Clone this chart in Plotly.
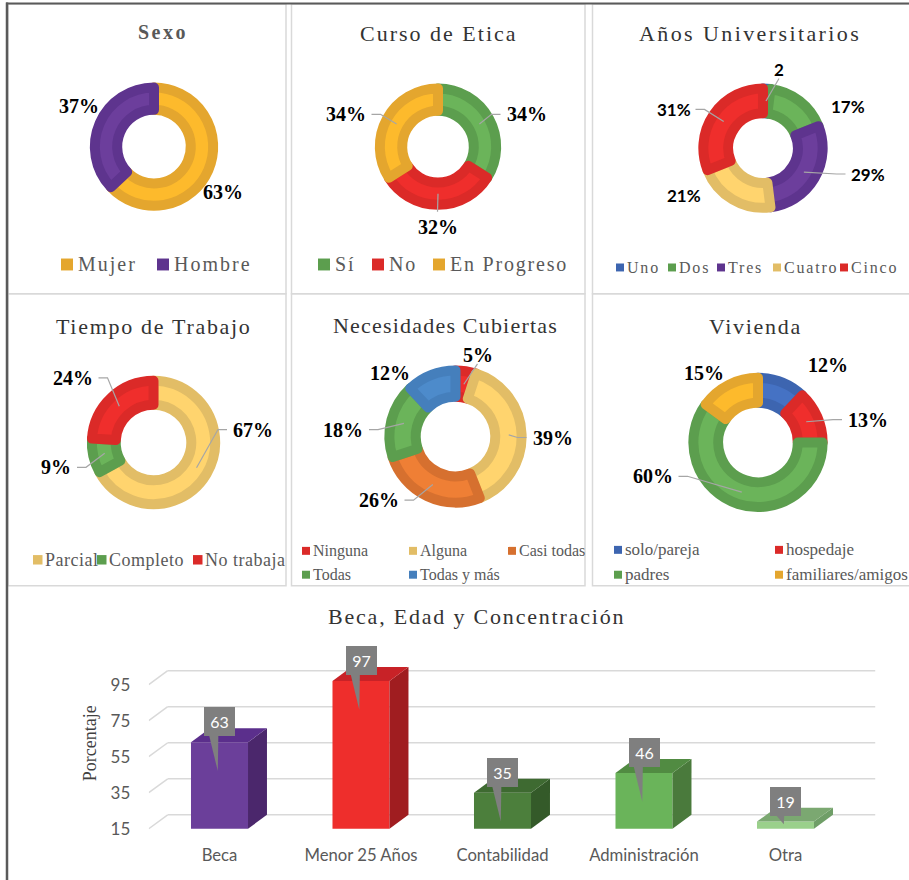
import math
import plotly.graph_objects as go

W, H = 909, 880

# ---------------- data ----------------
sexo_labels = ["Mujer", "Hombre"]
sexo_values = [63, 37]

etica_labels = ["Sí", "No", "En Progreso"]
etica_values = [34, 32, 34]

anos_labels = ["Uno", "Dos", "Tres", "Cuatro", "Cinco"]
anos_values = [2, 17, 29, 21, 31]
anos_text = ["2", "17%", "29%", "21%", "31%"]

trabajo_labels = ["Parcial", "Completo", "No trabaja"]
trabajo_values = [67, 9, 24]

necesidades_labels = ["Ninguna", "Alguna", "Casi todas", "Todas", "Todas y más"]
necesidades_values = [5, 39, 26, 18, 12]

vivienda_labels = ["solo/pareja", "hospedaje", "padres", "familiares/amigos"]
vivienda_values = [12, 13, 60, 15]

bar_categories = ["Beca", "Menor 25 Años", "Contabilidad", "Administración", "Otra"]
bar_values = [63, 97, 35, 46, 19]
bar_ticks = [15, 35, 55, 75, 95]

# ---------------- styles ----------------
SERIF = "Liberation Serif"
SANS = "Lato"
YEL = ("#FDBA2C", "#E4A62E")
PUR = ("#6C3E9C", "#5E348E")
GRN = ("#6BB45A", "#5C9E4E")
RED = ("#EF2E2C", "#DB2A28")
LYE = ("#FFD46E", "#E2BD66")
BLU = ("#4572C4", "#3D65B0")
BLU2 = ("#4D8BCB", "#457FBC")
ORG = ("#EF7F35", "#D6702F")
LEADER = "#A6A6A6"
LEGEND_COLOR = "#595959"
TITLE_COLOR = "#333333"


def X(px):
    return px / W


def Y(py):
    return 1 - py / H


def ls_text(t, ls):
    if ls:
        return f'<span style="letter-spacing:{ls}px">{t}</span>'
    return t


fig = go.Figure()
shapes = []
annotations = []


def add_text(x, y, text, size, family, color, xanchor="center", weight="normal", ls=0, angle=0):
    annotations.append(dict(x=X(x), y=Y(y), xref="paper", yref="paper", text=ls_text(text, ls),
                            showarrow=False, borderpad=0,
                            font=dict(family=family, size=size, color=color, weight=weight),
                            xanchor=xanchor, yanchor="middle", textangle=angle))


# ---------------- panel frames ----------------
for (x0, x1) in [(8, 286), (291.5, 585), (592.5, 915)]:
    for (y0, y1) in [(4, 295.5), (295.5, 589)]:
        shapes.append(dict(type="rect", xref="paper", yref="paper", x0=X(x0), x1=X(x1), y0=Y(y1), y1=Y(y0),
                           line=dict(color="#D9D9D9", width=1.5), layer="below"))
shapes.append(dict(type="line", xref="paper", yref="paper", x0=X(7), x1=X(7), y0=Y(2.5), y1=Y(885),
                   line=dict(color="#5A5A5A", width=2.5)))
shapes.append(dict(type="line", xref="paper", yref="paper", x0=X(6), x1=X(915), y0=Y(3.5), y1=Y(3.5),
                   line=dict(color="#5A5A5A", width=2)))

# ---------------- donuts ----------------
donuts = [
    dict(title="<b>Sexo</b>", title_xy=(163, 32), title_size=20, title_color="#595959", title_ls=2.5,
         labels=sexo_labels, values=sexo_values, text=[f"{v}%" for v in sexo_values],
         pal=[YEL, PUR], c=(154, 147.5), ro=64.5, ri=32, lab_family=SERIF, lab_size=20,
         lab_pos=[(223, 193, None), (79, 107, None)],
         leg=dict(size=20, sq=12, ls=2, gap=4, items=[(61, 266), (157, 266)])),
    dict(title="Curso de Etica", title_xy=(438.5, 34), title_size=22, title_color=TITLE_COLOR, title_ls=2,
         labels=etica_labels, values=etica_values, text=[f"{v}%" for v in etica_values],
         pal=[GRN, RED, YEL], c=(438, 147.5), ro=63.5, ri=31, lab_family=SERIF, lab_size=20,
         lab_pos=[(526.5, 115, "r"), (437.5, 228, "b"), (345.5, 115, "l")],
         leg=dict(size=20, sq=12, ls=1.8, gap=4, items=[(318, 266), (372, 266), (433, 266)])),
    dict(title="Años Universitarios", title_xy=(749.5, 34), title_size=22, title_color=TITLE_COLOR, title_ls=2.4,
         labels=anos_labels, values=anos_values, text=anos_text,
         pal=[BLU, GRN, PUR, LYE, RED], c=(763, 149), ro=65, ri=30, lab_family=SANS, lab_size=17,
         lab_pos=[(779, 70, "t"), (847.5, 107, None), (867.5, 175, "r"), (683.5, 197, None), (673.5, 110, "l")],
         leg=dict(size=16, sq=8, ls=1.8, gap=2, items=[(616, 269), (668, 269), (717, 269), (773, 269), (840, 269)])),
    dict(title="Tiempo de Trabajo", title_xy=(154, 328.5), title_size=22, title_color=TITLE_COLOR, title_ls=1.7,
         labels=trabajo_labels, values=trabajo_values, text=[f"{v}%" for v in trabajo_values],
         pal=[LYE, GRN, RED], c=(153.5, 445), ro=67, ri=33, lab_family=SERIF, lab_size=20,
         lab_pos=[(253, 432, "r"), (56, 470, "l"), (72.5, 380, "l")],
         leg=dict(size=18, sq=9.5, ls=0.5, gap=1.5, items=[(33, 563), (97, 563), (193, 563)])),
    dict(title="Necesidades Cubiertas", title_xy=(445.5, 327.5), title_size=22, title_color=TITLE_COLOR, title_ls=1.2,
         labels=necesidades_labels, values=necesidades_values, text=[f"{v}%" for v in necesidades_values],
         pal=[RED, LYE, ORG, GRN, BLU2], c=(455.5, 439), ro=71.5, ri=35, lab_family=SERIF, lab_size=20,
         lab_pos=[(477.5, 357, "t"), (552.5, 440, "r"), (378.5, 503, "l"), (343, 432, "l"), (390, 375, None)],
         leg=dict(size=16, sq=8, ls=0, gap=1.5,
                  items=[(302, 554), (409, 554), (508, 554), (302, 578), (409, 578)])),
    dict(title="Vivienda", title_xy=(755, 328), title_size=22, title_color=TITLE_COLOR, title_ls=1.7,
         labels=vivienda_labels, values=vivienda_values, text=[f"{v}%" for v in vivienda_values],
         pal=[BLU, RED, GRN, YEL], c=(758, 445), ro=70, ri=35, lab_family=SERIF, lab_size=20,
         lab_pos=[(828, 367, None), (868, 422, "r"), (652.5, 479, "l"), (704, 375, None)],
         leg=dict(size=17, sq=8, ls=0, gap=1.5, items=[(614, 553), (775, 553), (614, 578), (775, 578)])),
]

SW = 10
for d in donuts:
    cx, cy = d["c"]
    R = d["ro"] - SW / 2
    hole = (d["ri"] + SW / 2) / R
    fills = [p[0] for p in d["pal"]]
    bands = [p[1] for p in d["pal"]]
    fig.add_trace(go.Pie(labels=d["labels"], values=d["values"], sort=False, direction="clockwise",
                         rotation=0, hole=hole, textinfo="none", showlegend=False,
                         hoverinfo="label+value",
                         marker=dict(colors=fills, line=dict(color=bands, width=SW)),
                         domain=dict(x=[X(cx - R), X(cx + R)], y=[Y(cy + R), Y(cy - R)])))
    # title
    tx, ty = d["title_xy"]
    add_text(tx, ty, d["title"], d["title_size"], SERIF, d["title_color"], ls=d["title_ls"])
    # data labels + leader lines
    total = float(sum(d["values"]))
    rmid = (d["ro"] + d["ri"]) / 2
    cum = 0.0
    for v, txt, (lx, ly, side) in zip(d["values"], d["text"], d["lab_pos"]):
        ang = math.radians((cum + v / 2) / total * 360)
        cum += v
        add_text(lx, ly, txt, d["lab_size"], d["lab_family"], "#000000", weight="bold")
        if side is None:
            continue
        ax, ay = cx + rmid * math.sin(ang), cy - rmid * math.cos(ang)
        if d["lab_family"] == SERIF:
            wtxt = sum(20 if ch == "%" else 10 for ch in txt)
        else:
            wtxt = sum(13 if ch == "%" else 9.5 for ch in txt)
        if side == "r":
            ex = lx - wtxt / 2 - 6
            pts = [(ax, ay), (ex - 9, ly), (ex, ly)]
        elif side == "l":
            ex = lx + wtxt / 2 + 6
            pts = [(ax, ay), (ex + 9, ly), (ex, ly)]
        elif side == "t":
            pts = [(ax, ay), (lx, ly + 9)]
        else:
            pts = [(ax, ay), (lx, ly - 15)]
        path = "M " + " L ".join(f"{X(px):.5f},{Y(py):.5f}" for px, py in pts)
        shapes.append(dict(type="path", xref="paper", yref="paper", path=path,
                           line=dict(color=LEADER, width=1.2)))
    # legend
    lg = d["leg"]
    for lab, (px, py), col in zip(d["labels"], lg["items"], bands):
        s = lg["sq"]
        shapes.append(dict(type="rect", xref="paper", yref="paper", x0=X(px), x1=X(px + s),
                           y0=Y(py + s / 2), y1=Y(py - s / 2), fillcolor=col, line=dict(width=0)))
        add_text(px + s + lg["gap"], py, lab, lg["size"], SERIF, LEGEND_COLOR, xanchor="left", ls=lg["ls"])

# ---------------- 3D bar chart ----------------
BASE = 15
BW = 0.403
DX = 0.134
DY = 7.72
front = ["#6B3F9A", "#EE2E2C", "#4C7F3C", "#6AB45A", "#9AD08B"]
side = ["#4B276C", "#A01D20", "#345A29", "#4A7A3C", "#6F9E67"]
top = ["#5B2F8C", "#C82227", "#3E6A31", "#518B42", "#7BA871"]
xs = list(range(len(bar_categories)))

for t in bar_ticks:
    shapes.append(dict(type="line", xref="x", yref="y", x0=-0.5, y0=t, x1=-0.5 + DX, y1=t + DY,
                       line=dict(color="#D9D9D9", width=1.5), layer="below"))
    shapes.append(dict(type="line", xref="x", yref="y", x0=-0.5 + DX, y0=t + DY, x1=xs[-1] + 0.5 + DX, y1=t + DY,
                       line=dict(color="#D9D9D9", width=1.5), layer="below"))

fig.add_trace(go.Bar(x=xs, y=[v - BASE for v in bar_values], base=BASE, width=BW,
                     marker=dict(color=front, line=dict(width=0)), showlegend=False,
                     hovertext=bar_categories, hoverinfo="text"))

for i, v in zip(xs, bar_values):
    r = i + BW / 2
    l = i - BW / 2
    fig.add_trace(go.Scatter(x=[r, r + DX, r + DX, r, r], y=[BASE, BASE + DY, v + DY, v, BASE],
                             mode="lines", fill="toself", fillcolor=side[i], line=dict(width=0),
                             hoverinfo="skip", showlegend=False))
    fig.add_trace(go.Scatter(x=[l, r, r + DX, l + DX, l], y=[v, v, v + DY, v + DY, v],
                             mode="lines", fill="toself", fillcolor=top[i], line=dict(width=0),
                             hoverinfo="skip", showlegend=False))

# callouts
for i, v in zip(xs, bar_values):
    b = v + 3.3
    tip = max(v - 16, 17.5)
    fig.add_trace(go.Scatter(x=[i - 0.075, i - 0.008, i - 0.012, i - 0.075], y=[b + 1, b + 1, tip, b + 1],
                             mode="lines", fill="toself", fillcolor="#7F7F7F", line=dict(width=0),
                             hoverinfo="skip", showlegend=False))
    annotations.append(dict(x=i, y=b, xref="x", yref="y", text=str(v), showarrow=False,
                            xanchor="center", yanchor="bottom", bgcolor="#7F7F7F",
                            width=25, height=23, borderpad=3, borderwidth=0,
                            font=dict(family=SANS, size=16, color="#FFFFFF")))

add_text(476, 620, "Beca, Edad y Concentración", 22, SERIF, TITLE_COLOR, ls=1.8)
add_text(89.5, 748, "Porcentaje", 18, SERIF, "#404040", angle=-90)

fig.update_layout(
    width=W, height=H, margin=dict(l=0, r=0, t=0, b=0),
    paper_bgcolor="white", plot_bgcolor="rgba(0,0,0,0)", showlegend=False,
    xaxis=dict(domain=[X(148.75), X(884.55)], range=[-0.5, 4.7], tickvals=xs, ticktext=bar_categories,
               showgrid=False, zeroline=False, showline=False, ticks="outside", ticklen=6,
               tickcolor="rgba(0,0,0,0)", tickfont=dict(family=SANS, size=16.7, color="#595959"),
               fixedrange=True),
    yaxis=dict(domain=[Y(838.94), Y(646.81)], range=[12, 118], tickvals=bar_ticks,
               showgrid=False, zeroline=False, showline=False, ticks="outside", ticklen=14,
               tickcolor="rgba(0,0,0,0)", tickfont=dict(family=SANS, size=17, color="#595959"),
               fixedrange=True),
    shapes=shapes, annotations=annotations,
)

fig.write_html("out.html", config={"displayModeBar": False},
               post_script="document.body.style.margin='0';document.body.style.padding='0';")
